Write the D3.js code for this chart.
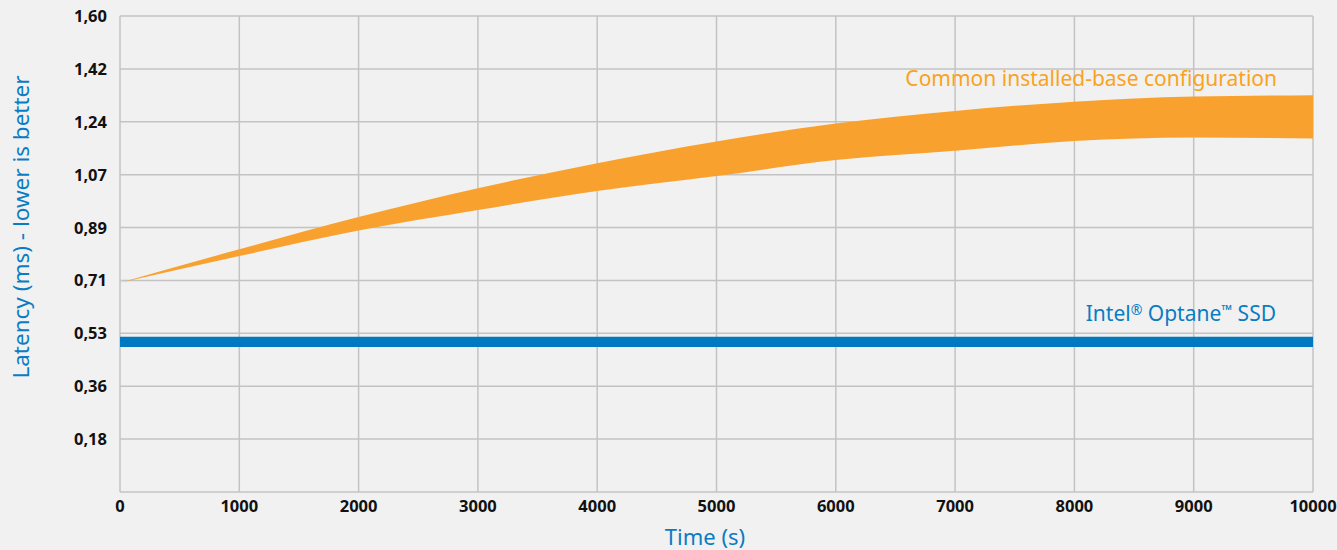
<!DOCTYPE html>
<html>
<head>
<meta charset="utf-8">
<script src="https://cdn.jsdelivr.net/npm/d3@7.9.0/dist/d3.min.js"></script>
<style>
  html, body { margin: 0; padding: 0; background: #f1f1f1; }
  svg { display: block; font-family: "Noto Sans", "Open Sans", sans-serif; }
</style>
</head>
<body>
<div id="chart"></div>
<script>
// time steps (s) and the latency band (ms)
const times = [0, 1000, 2000, 3000, 4000, 5000, 6000, 7000, 8000, 9000, 10000];
const commonUpper = [0.703, 0.816, 0.924, 1.021, 1.105, 1.178, 1.239, 1.281, 1.312, 1.329, 1.334];
const commonLower = [0.703, 0.793, 0.879, 0.948, 1.012, 1.062, 1.116, 1.147, 1.180, 1.192, 1.188];
const optaneUpper = [0.522, 0.522];
const optaneLower = [0.487, 0.487];
const optaneTimes = [0, 10000];

const xTicks = [0, 1000, 2000, 3000, 4000, 5000, 6000, 7000, 8000, 9000, 10000];
const yMax = 1.6;
const yTickCount = 9;
const yTicks = d3.range(1, yTickCount + 1).map(i => i * yMax / yTickCount);

const width = 1337;
const height = 550;
const margin = { top: 16, right: 24, bottom: 58, left: 120 };

const svg = d3.select("#chart").append("svg")
    .attr("width", width)
    .attr("height", height);

const x = d3.scaleLinear().domain([0, 10000]).range([margin.left, width - margin.right]);
const y = d3.scaleLinear().domain([0, yMax]).range([height - margin.bottom, margin.top]);

const gridColor = "#c3c3c3";

// grid
svg.append("g").selectAll("line").data(xTicks)
    .join("line")
    .attr("x1", d => x(d)).attr("x2", d => x(d))
    .attr("y1", y(yMax)).attr("y2", y(0))
    .attr("stroke", gridColor).attr("stroke-width", 1.5);

svg.append("g").selectAll("line").data([0, ...yTicks])
    .join("line")
    .attr("x1", x(0)).attr("x2", x(10000))
    .attr("y1", d => y(d)).attr("y2", d => y(d))
    .attr("stroke", gridColor).attr("stroke-width", 1.5);

// bands
const area = d3.area()
    .x(d => x(d.t))
    .y0(d => y(d.lo))
    .y1(d => y(d.hi))
    .curve(d3.curveMonotoneX);

const commonData = times.map((t, i) => ({ t, lo: commonLower[i], hi: commonUpper[i] }));
const optaneData = optaneTimes.map((t, i) => ({ t, lo: optaneLower[i], hi: optaneUpper[i] }));

svg.append("path").datum(commonData).attr("d", area).attr("fill", "#f9a12e");
svg.append("path").datum(optaneData).attr("d", area).attr("fill", "#0079c1");

// tick labels
svg.append("g").selectAll("text").data(yTicks)
    .join("text")
    .attr("x", 107)
    .attr("y", d => y(d) + 6)
    .attr("text-anchor", "end")
    .attr("font-size", 16.5)
    .attr("font-weight", "bold")
    .attr("fill", "#111")
    .text(d => d.toFixed(2).replace(".", ","));

svg.append("g").selectAll("text").data(xTicks)
    .join("text")
    .attr("x", d => x(d))
    .attr("y", 512)
    .attr("text-anchor", "middle")
    .attr("font-size", 16.5)
    .attr("font-weight", "bold")
    .attr("fill", "#111")
    .text(d => d);

// axis titles
svg.append("text")
    .attr("x", 705)
    .attr("y", 545)
    .attr("text-anchor", "middle")
    .attr("font-size", 22)
    .attr("fill", "#0a7cc4")
    .text("Time (s)");

svg.append("text")
    .attr("transform", `translate(29,227) rotate(-90)`)
    .attr("text-anchor", "middle")
    .attr("font-size", 22.5)
    .attr("fill", "#0a7cc4")
    .text("Latency (ms) - lower is better");

// series labels
svg.append("text")
    .attr("x", 1277)
    .attr("y", 86)
    .attr("text-anchor", "end")
    .attr("font-size", 21)
    .attr("fill", "#f9a31e")
    .text("Common installed-base configuration");

const optLabel = svg.append("text")
    .attr("x", 1276)
    .attr("y", 321)
    .attr("text-anchor", "end")
    .attr("font-size", 21)
    .attr("fill", "#0a7cc4");
optLabel.append("tspan").text("Intel");
optLabel.append("tspan").attr("font-size", 14).attr("dy", -6).text("®");
optLabel.append("tspan").attr("dy", 6).text(" Optane");
optLabel.append("tspan").attr("font-size", 14).attr("dy", -6).text("™");
optLabel.append("tspan").attr("dy", 6).text(" SSD");
</script>
</body>
</html>
